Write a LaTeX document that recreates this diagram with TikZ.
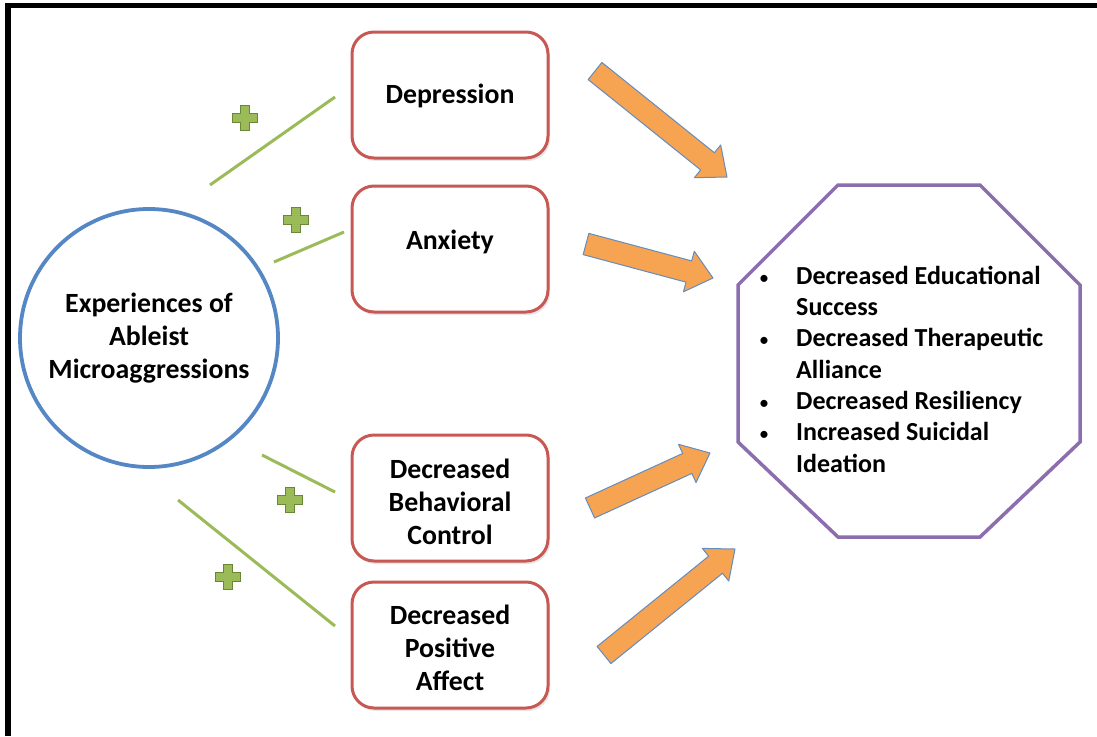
\documentclass[tikz,border=0pt]{standalone}
\usepackage{fontspec}
\setmainfont{Carlito}
\usetikzlibrary{calc,shadows}
\definecolor{boxred}{RGB}{200,88,84}
\definecolor{circleblue}{RGB}{84,135,196}
\definecolor{linkgreen}{RGB}{155,187,89}
\definecolor{plusedge}{RGB}{105,135,55}
\definecolor{arroworange}{RGB}{246,163,82}
\definecolor{arrowedge}{RGB}{100,140,190}
\definecolor{octpurple}{RGB}{140,110,175}
\tikzset{
  txt/.style={font=\bfseries\fontsize{27.8}{33}\selectfont, align=center},
  box/.style={txt, draw=boxred, line width=3pt, rounded corners=22pt,
    minimum width=196pt, minimum height=126pt, fill=white,
    drop shadow={opacity=0.2, shadow xshift=2pt, shadow yshift=-3pt}},
  hub/.style={txt, circle, draw=circleblue, line width=3.8pt, minimum size=258pt, fill=white},
  link/.style={draw=linkgreen, line width=3pt},
  fatarrow/.style={fill=arroworange, draw=arrowedge, line width=1pt, line join=round},
  octline/.style={draw=octpurple, line width=3.5pt, fill=white, line join=miter},
  plussign/.pic={\draw[fill=linkgreen, draw=plusedge, line width=1pt]
    (-4.5,-12.5) -- (4.5,-12.5) -- (4.5,-4.5) -- (12.5,-4.5) -- (12.5,4.5) -- (4.5,4.5)
    -- (4.5,12.5) -- (-4.5,12.5) -- (-4.5,4.5) -- (-12.5,4.5) -- (-12.5,-4.5) -- (-4.5,-4.5) -- cycle;}
}
\newcommand\orangearrow[2]{%
  \coordinate (hb) at ($(#2)!25pt!(#1)$);
  \draw[fatarrow] ($(#1)!11pt!90:(#2)$) -- ($(hb)!11pt!90:(#2)$) -- ($(hb)!21pt!90:(#2)$)
    -- (#2) -- ($(hb)!21pt!-90:(#2)$) -- ($(hb)!11pt!-90:(#2)$) -- ($(#1)!11pt!-90:(#2)$) -- cycle;}
\newcommand\blt{{\mdseries\fontsize{20}{20}\selectfont\textbullet}}
\newcommand\shifttext[2]{\raisebox{#1}[\height][\depth]{\begin{tabular}{@{}c@{}}#2\end{tabular}}}
\begin{document}
\begin{tikzpicture}[x=1pt,y=-1pt]
\useasboundingbox (0,0) rectangle (1097,736);
% frame
\draw[line width=5.5pt, line cap=butt] (8,736) -- (8,5.5) -- (1097,5.5);

% hub
\node[hub] (hub) at (149,338) {Experiences of\\Ableist\\Microaggressions};

% boxes
\node[box] (dep) at (450,95) {\shifttext{-2pt}{Depression}};
\node[box] (anx) at (450,249) {\shifttext{6pt}{Anxiety}};
\node[box] (beh) at (450,498) {\shifttext{-7pt}{Decreased\\Behavioral\\Control}};
\node[box] (pos) at (450,645) {\shifttext{-5.5pt}{Decreased\\Positive\\Affect}};

% green links
\coordinate (l1a) at (210,185); \coordinate (l1b) at (335,97);
\coordinate (l2a) at (274,262); \coordinate (l2b) at (344,232);
\coordinate (l3a) at (262,455); \coordinate (l3b) at (335,492);
\coordinate (l4a) at (178,500); \coordinate (l4b) at (335,626);
\draw[link] (l1a) -- (l1b);
\draw[link] (l2a) -- (l2b);
\draw[link] (l3a) -- (l3b);
\draw[link] (l4a) -- (l4b);

% plus signs
\pic at (245,118) {plussign};
\pic at (296,220) {plussign};
\pic at (290,500) {plussign};
\pic at (228,577) {plussign};

% orange arrows
\coordinate (a1t) at (595,71);  \coordinate (a1h) at (727,177);
\coordinate (a2t) at (586,244); \coordinate (a2h) at (713,278);
\coordinate (a3t) at (590,508); \coordinate (a3h) at (710,453);
\coordinate (a4t) at (604,655); \coordinate (a4h) at (735,549);
\orangearrow{a1t}{a1h}
\orangearrow{a2t}{a2h}
\orangearrow{a3t}{a3h}
\orangearrow{a4t}{a4h}

% octagon
\draw[octline] (838,185) -- (980,185) -- (1080,285) -- (1080,442) -- (980,537)
  -- (838,537) -- (738,442) -- (738,285) -- cycle;
\node[anchor=west, font=\bfseries\fontsize{26}{31.3}\selectfont, inner sep=0pt] (out) at (759,372) {%
  \begin{tabular}{@{}p{37pt}@{}l@{}}
  \blt & Decreased Educational\\
   & Success\\
  \blt & Decreased Therapeutic\\
   & Alliance\\
  \blt & Decreased Resiliency\\
  \blt & Increased Suicidal\\
   & Ideation
  \end{tabular}};
\end{tikzpicture}
\end{document}
